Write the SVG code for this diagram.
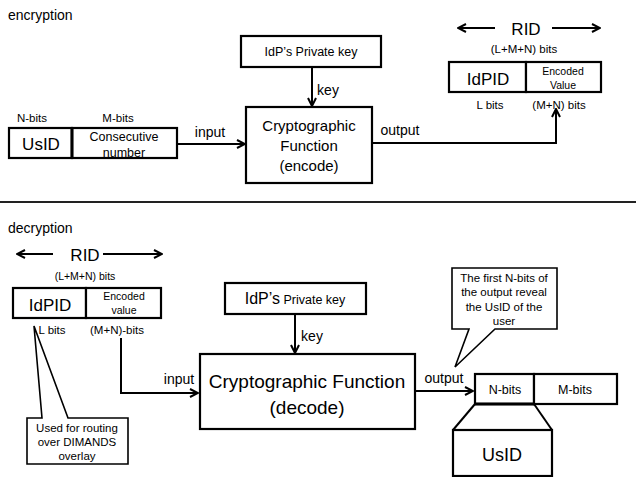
<svg xmlns="http://www.w3.org/2000/svg" width="636" height="477" viewBox="0 0 636 477">
<style>
text{font-family:"Liberation Sans",Arial,sans-serif;fill:#000;text-anchor:middle}
.box{fill:#fff;stroke:#000;stroke-width:2.2}
.ln{fill:none;stroke:#000;stroke-width:2}
.s{font-size:10.5px}
.t{font-size:11.5px}
.m{font-size:12.5px}
.lab{font-size:14px}
.l{font-size:17px}
</style>
<defs>
<marker id="ah" viewBox="0 0 10 10" refX="9" refY="5" markerWidth="10" markerHeight="10" markerUnits="userSpaceOnUse" orient="auto">
<path d="M1,1 L9,5 L1,9" fill="none" stroke="#000" stroke-width="2"/>
</marker>
</defs>
<text x="8" y="20" class="lab" style="text-anchor:start">encryption</text>
<text x="8" y="233" class="lab" style="text-anchor:start">decryption</text>
<line x1="0" y1="202" x2="636" y2="202" stroke="#222" stroke-width="2"/>

<g id="connectors">
<line class="ln" x1="312" y1="67" x2="312" y2="106" marker-end="url(#ah)"/>
<line class="ln" x1="177" y1="144" x2="245" y2="144" marker-end="url(#ah)"/>
<polyline class="ln" points="372,143 556,143 556,109" marker-end="url(#ah)"/>
<line class="ln" x1="495" y1="28" x2="458" y2="28" marker-end="url(#ah)"/>
<line class="ln" x1="552" y1="28" x2="600" y2="28" marker-end="url(#ah)"/>
<line class="ln" x1="53" y1="254" x2="17" y2="254" marker-end="url(#ah)"/>
<line class="ln" x1="103" y1="254" x2="162" y2="254" marker-end="url(#ah)"/>
<polyline class="ln" points="121,338 121,393 198,393" marker-end="url(#ah)"/>
<line class="ln" x1="295" y1="314" x2="295" y2="353" marker-end="url(#ah)"/>
<line class="ln" x1="415" y1="391" x2="473" y2="391" marker-end="url(#ah)"/>
<text x="328" y="95" class="lab">key</text>
<text x="210" y="137" class="lab">input</text>
<text x="400" y="135" class="lab">output</text>
<text x="179" y="384" class="lab">input</text>
<text x="444" y="383" class="lab">output</text>
<text x="312" y="341" class="lab">key</text>
</g>

<g id="enc-key">
<rect class="box" x="241" y="36" width="140" height="31"/>
<text x="311" y="56" class="m">IdP’s Private key</text>
</g>
<g id="enc-func">
<rect class="box" x="246" y="107" width="126" height="76"/>
<text x="309" y="131" style="font-size:15px">Cryptographic</text>
<text x="309" y="151" style="font-size:15px">Function</text>
<text x="309" y="171" style="font-size:15px">(encode)</text>
</g>
<g id="enc-input">
<rect class="box" x="9" y="128" width="63" height="30"/>
<rect class="box" x="72" y="128" width="105" height="30"/>
<line x1="72" y1="128" x2="72" y2="158" stroke="#000" stroke-width="3"/>
<text x="41" y="150" class="l">UsID</text>
<text x="124" y="141" class="m">Consecutive</text>
<text x="124" y="157" class="m">number</text>
<text x="32" y="122" class="t">N-bits</text>
<text x="118" y="122" class="t">M-bits</text>
</g>
<g id="enc-rid">
<text x="526" y="35" class="l">RID</text>
<text x="524" y="53" class="t">(L+M+N) bits</text>
<rect class="box" x="449" y="62" width="77" height="30"/>
<rect class="box" x="526" y="62" width="75" height="30"/>
<text x="488" y="85" class="l">IdPID</text>
<text x="563" y="75" class="s">Encoded</text>
<text x="563" y="89" class="s">Value</text>
<text x="490" y="109" class="t">L bits</text>
<text x="559" y="109" class="t">(M+N) bits</text>
</g>

<g id="dec-rid">
<text x="85" y="261" class="l">RID</text>
<text x="85" y="280" class="s">(L+M+N) bits</text>
<rect class="box" x="13" y="288" width="73" height="30"/>
<rect class="box" x="86" y="288" width="75" height="30"/>
<text x="50" y="311" class="l">IdPID</text>
<text x="124" y="300" class="s">Encoded</text>
<text x="124" y="314" class="s">value</text>
<text x="52" y="334" class="t">L bits</text>
<text x="117" y="334" class="t">(M+N)-bits</text>
</g>
<g id="dec-callout-routing">
<path d="M27,418 L42,418 L34,326 L68,418 L128,418 L128,464 L27,464 Z" fill="none" stroke="#000" stroke-width="1.6"/>
<text x="77" y="432" class="t">Used for routing</text>
<text x="77" y="446" class="t">over DIMANDS</text>
<text x="77" y="460" class="t">overlay</text>
</g>
<g id="dec-key">
<rect class="box" x="225" y="283" width="141" height="31"/>
<text x="295" y="304"><tspan style="font-size:16px">IdP’s</tspan><tspan style="font-size:12.5px"> Private key</tspan></text>
</g>
<g id="dec-func">
<rect class="box" x="200" y="354" width="215" height="75"/>
<text x="307" y="388" style="font-size:19px">Cryptographic Function</text>
<text x="307" y="414" style="font-size:19px">(decode)</text>
</g>
<g id="dec-callout-usid">
<path d="M452,268 L557,268 L557,329 L495,329 L455,367 L469,329 L452,329 Z" fill="#fff" stroke="#000" stroke-width="1.6"/>
<text x="504" y="282" class="t">The first N-bits of</text>
<text x="504" y="296" class="t">the output reveal</text>
<text x="504" y="311" class="t">the UsID of the</text>
<text x="504" y="325" class="t">user</text>
</g>
<g id="dec-output">
<rect class="box" x="475" y="374" width="59" height="30"/>
<rect class="box" x="534" y="374" width="83" height="30"/>
<text x="505" y="394" style="font-size:12.5px">N-bits</text>
<text x="575" y="394" style="font-size:12.5px">M-bits</text>
<line x1="475" y1="404" x2="534" y2="404" stroke="#000" stroke-width="3"/>
<line class="ln" x1="475" y1="404" x2="453" y2="430"/>
<line class="ln" x1="534" y1="404" x2="552" y2="430"/>
</g>
<g id="dec-usid">
<rect class="box" x="453" y="430" width="99" height="46"/>
<text x="502" y="461" style="font-size:18px">UsID</text>
</g>
</svg>
